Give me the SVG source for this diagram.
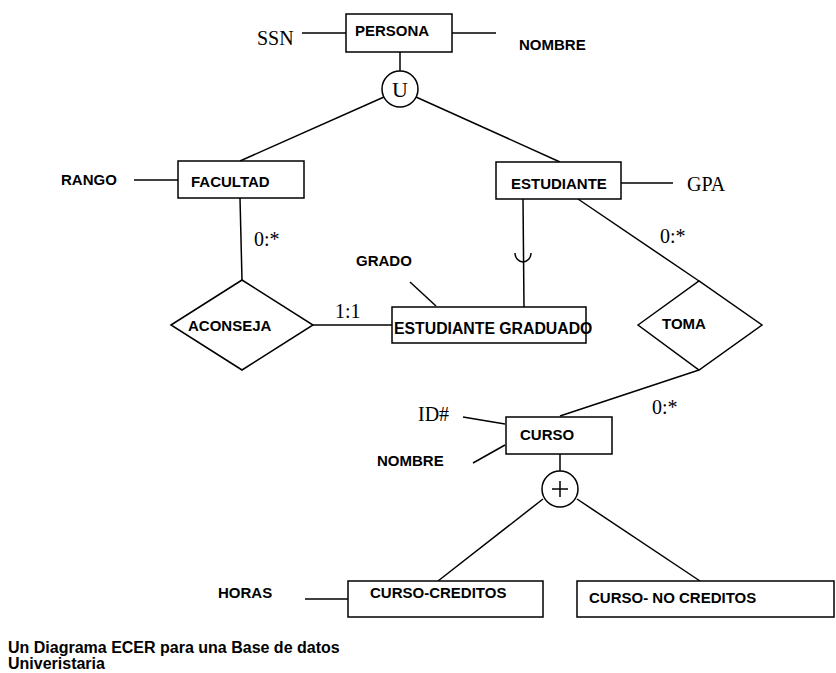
<svg xmlns="http://www.w3.org/2000/svg" width="836" height="673" viewBox="0 0 836 673">
<style>
.b{fill:#fff;stroke:#000;stroke-width:1.5}
.l{fill:none;stroke:#000;stroke-width:1.5}
.t{font-family:"Liberation Sans",Arial,sans-serif;font-weight:bold;font-size:15px;fill:#000}
.s{font-family:"Liberation Serif","Times New Roman",serif;font-size:20px;fill:#000}
.cap{font-size:16px}
.eg{font-size:15.8px}
.u{font-size:22px}
</style>
<rect width="836" height="673" fill="#fff"/>
<g id="connectors">
<line class="l" x1="302" y1="33" x2="346" y2="33"/>
<line class="l" x1="452" y1="33" x2="496" y2="33"/>
<line class="l" x1="400" y1="52" x2="400" y2="71"/>
<line class="l" x1="384" y1="97" x2="240" y2="161"/>
<line class="l" x1="416" y1="97" x2="560" y2="162"/>
<line class="l" x1="134" y1="180" x2="178" y2="180"/>
<line class="l" x1="621" y1="183" x2="673" y2="183"/>
<line class="l" x1="240" y1="198" x2="242" y2="280"/>
<line class="l" x1="523" y1="199" x2="524" y2="307"/>
<path class="l" d="M515,253 A8,9 0 0 0 531,253"/>
<line class="l" x1="578" y1="199" x2="699" y2="281"/>
<line class="l" x1="313" y1="325" x2="392" y2="325"/>
<line class="l" x1="410" y1="282" x2="436" y2="306"/>
<line class="l" x1="699" y1="370" x2="560" y2="416"/>
<line class="l" x1="463" y1="417" x2="505" y2="424"/>
<line class="l" x1="473" y1="463" x2="505" y2="445"/>
<line class="l" x1="560" y1="454" x2="560" y2="471"/>
<line class="l" x1="543" y1="499" x2="438" y2="581"/>
<line class="l" x1="577" y1="499" x2="700" y2="581"/>
<line class="l" x1="305" y1="599" x2="348" y2="599"/>
</g>
<g id="persona">
<rect class="b" x="346" y="14" width="106" height="38"/>
<text class="t" x="355" y="36">PERSONA</text>
</g>
<g id="ssn"><text class="s" x="257" y="45">SSN</text></g>
<g id="nombre1"><text class="t" x="519" y="50">NOMBRE</text></g>
<g id="union">
<circle class="b" cx="400" cy="89" r="18"/>
<text class="s u" x="400" y="97" text-anchor="middle">U</text>
</g>
<g id="facultad">
<rect class="b" x="178" y="161" width="126" height="37"/>
<text class="t" x="191" y="187">FACULTAD</text>
</g>
<g id="rango"><text class="t" x="61" y="185">RANGO</text></g>
<g id="estudiante">
<rect class="b" x="496" y="162" width="125" height="37"/>
<text class="t" x="511" y="189">ESTUDIANTE</text>
</g>
<g id="gpa"><text class="s" x="687" y="191">GPA</text></g>
<g id="card1"><text class="s" x="254" y="246">0:*</text></g>
<g id="card2"><text class="s" x="660" y="243">0:*</text></g>
<g id="grado"><text class="t" x="356" y="266">GRADO</text></g>
<g id="aconseja">
<polygon class="b" points="171,325 242,280 313,325 242,370"/>
<text class="t" x="188" y="331">ACONSEJA</text>
</g>
<g id="card3"><text class="s" x="335" y="318">1:1</text></g>
<g id="estudiante-graduado">
<rect class="b" x="392" y="307" width="194" height="36"/>
<text class="t eg" x="394" y="334">ESTUDIANTE GRADUADO</text>
</g>
<g id="toma">
<polygon class="b" points="638,325 699,281 762,325 699,370"/>
<text class="t" x="662" y="329">TOMA</text>
</g>
<g id="card4"><text class="s" x="652" y="414">0:*</text></g>
<g id="id"><text class="s" x="418" y="421">ID#</text></g>
<g id="nombre2"><text class="t" x="377" y="466">NOMBRE</text></g>
<g id="curso">
<rect class="b" x="506" y="417" width="106" height="37"/>
<text class="t" x="520" y="440">CURSO</text>
</g>
<g id="disjoint">
<circle class="b" cx="560" cy="489" r="18"/>
<line class="l" x1="552" y1="489" x2="568" y2="489" stroke-width="2"/>
<line class="l" x1="560" y1="481" x2="560" y2="497" stroke-width="2"/>
</g>
<g id="horas"><text class="t" x="218" y="598">HORAS</text></g>
<g id="curso-creditos">
<rect class="b" x="348" y="581" width="195" height="36"/>
<text class="t" x="370" y="598">CURSO-CREDITOS</text>
</g>
<g id="curso-no-creditos">
<rect class="b" x="577" y="581" width="257" height="36"/>
<text class="t" x="589" y="603">CURSO- NO CREDITOS</text>
</g>
<g id="caption">
<text class="t cap" x="8" y="653">Un Diagrama ECER para una Base de datos</text>
<text class="t cap" x="8" y="669">Univeristaria</text>
</g>
</svg>
